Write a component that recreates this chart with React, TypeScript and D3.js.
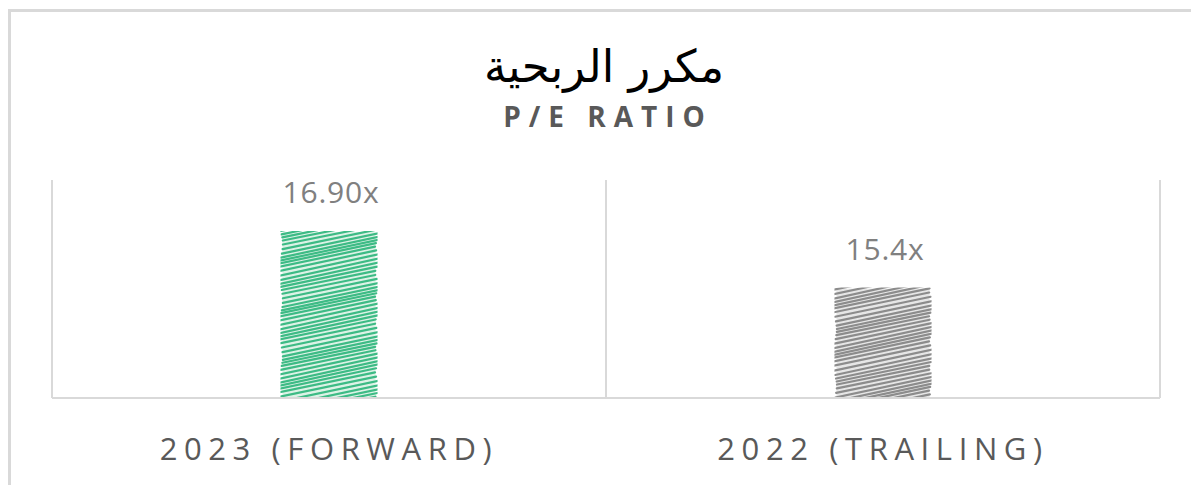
import React from 'react';
import {scaleBand, scaleLinear, range} from 'd3';

const categories = ['2023 (FORWARD)', '2022 (TRAILING)'];
const values = [16.9, 15.4];
const valueLabels = ['16.90x', '15.4x'];
const barColors = ['#3dbb85', '#8c8c8c'];
const barTints = ['#dcf2e6', '#e6e6e6'];

const width = 1191;
const height = 485;
const plot = {left: 52, right: 1160, top: 180, bottom: 398};
const font = "'Open Sans', 'DejaVu Sans', sans-serif";

// sketchy hatch lines for one bar (deterministic wobble, just styling)
const hatch = (x: number, y: number, w: number, h: number, seed: number) => {
  const rise = w * 0.22;
  const step = 3.8;
  return range(y - 2, y + h + rise, step).map((yy, i) => {
    const j1 = Math.sin(i * 12.9898 + seed) * 2.5;
    const j2 = Math.cos(i * 7.233 + seed) * 2.5;
    return {
      x1: x - 2 + j1,
      y1: yy + j2 * 0.4,
      x2: x + w + 2 + j2,
      y2: yy - rise + j1 * 0.4,
    };
  });
};

const App = () => {
  const x = scaleBand<string>().domain(categories).range([plot.left, plot.right]);
  const y = scaleLinear().domain([12.5, 18.28]).range([plot.bottom, plot.top]);
  const barW = x.bandwidth() * 0.168;

  return (
    <div style={{position: 'absolute', left: 0, top: 0}}>
      <svg width={width} height={height} style={{display: 'block'}}>
        <rect x={9.5} y={10.5} width={1200} height={500} fill="#fff" stroke="#d9d9d9" strokeWidth={3}/>
        <text x={604} y={82} textAnchor="middle" fontFamily="'DejaVu Sans', 'Noto Sans', sans-serif"
              fontSize={45} fill="#000" direction="rtl">مكرر الربحية</text>
        <text x={608} y={127} textAnchor="middle" fontFamily={font}
              fontSize={28} fontWeight={700} fill="#595959" letterSpacing={8}>P/E RATIO</text>

        {/* category separators */}
        {[plot.left, ...categories.map(c => (x(c) as number) + x.bandwidth())].map((gx, i) => (
          <line key={i} x1={gx} x2={gx} y1={plot.top} y2={plot.bottom} stroke="#d9d9d9" strokeWidth={2}/>
        ))}

        <defs>
          {categories.map((c, i) => {
            const bx = (x(c) as number) + (x.bandwidth() - barW) / 2;
            return (
              <clipPath id={`clip${i}`} key={c}>
                <rect x={bx - 2} y={y(values[i]) - 1} width={barW + 4} height={plot.bottom - y(values[i]) + 1}/>
              </clipPath>
            );
          })}
        </defs>

        {categories.map((c, i) => {
          const bx = (x(c) as number) + (x.bandwidth() - barW) / 2;
          const by = y(values[i]);
          const bh = plot.bottom - by;
          return (
            <g key={c}>
              <rect x={bx} y={by} width={barW} height={bh} fill={barTints[i]}/>
              <g clipPath={`url(#clip${i})`}>
                {hatch(bx, by, barW, bh, i * 3.1).map((l, k) => (
                  <line key={k} x1={l.x1} y1={l.y1} x2={l.x2} y2={l.y2}
                        stroke={barColors[i]} strokeWidth={2.2} strokeLinecap="round"/>
                ))}
              </g>
              <text x={bx + barW / 2 + 2} y={by - 29} textAnchor="middle"
                    fontFamily={font} fontSize={30} fill="#808080" letterSpacing={0.8}>
                {valueLabels[i]}
              </text>
              <text x={(x(c) as number) + x.bandwidth() / 2} y={460} textAnchor="middle"
                    fontFamily={font} fontSize={31} fill="#595959" letterSpacing={6.6}>
                {c}
              </text>
            </g>
          );
        })}

        <line x1={plot.left} x2={plot.right} y1={plot.bottom} y2={plot.bottom} stroke="#d9d9d9" strokeWidth={2}/>
      </svg>
    </div>
  );
};

export default App;
